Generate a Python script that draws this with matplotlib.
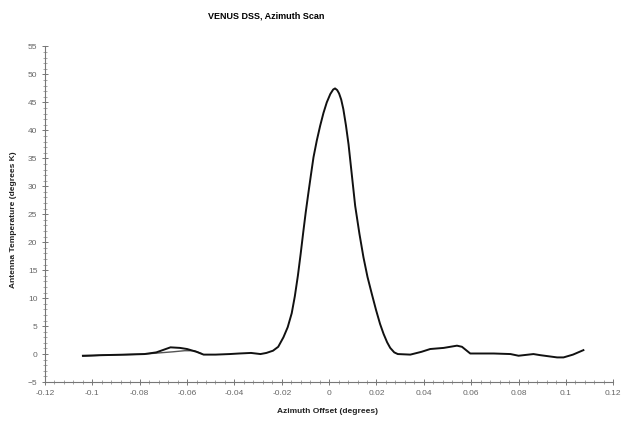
import matplotlib
matplotlib.use("Agg")
import matplotlib.pyplot as plt
from matplotlib.ticker import MultipleLocator, FuncFormatter

plt.rcParams['font.family'] = ['Liberation Sans', 'DejaVu Sans']

# azimuth scan, main trace (offset in degrees, antenna temperature in K)
offset = [-0.104, -0.096, -0.086, -0.078, -0.073, -0.067, -0.063, -0.060, -0.056,
          -0.053, -0.048, -0.042, -0.038, -0.033, -0.029, -0.0265, -0.0237,
          -0.0215, -0.0193, -0.0175, -0.0158, -0.0145, -0.0132, -0.0120, -0.0109,
          -0.0099, -0.0088, -0.0077, -0.0066, -0.0052, -0.0038, -0.0024, -0.0010,
          0.0005, 0.0017, 0.0025, 0.0034, 0.0042, 0.0051, 0.0060, 0.0071, 0.0082,
          0.0096, 0.0110, 0.0128, 0.0145, 0.0162, 0.0180, 0.0198, 0.0215, 0.0230,
          0.0245, 0.0258, 0.0275, 0.0290,
          0.0343, 0.0390, 0.0427, 0.0484, 0.0540, 0.0561, 0.0596, 0.0695,
          0.0766, 0.0800, 0.0863, 0.0892, 0.0963, 0.0990, 0.1030, 0.1074]
temp = [-0.3, -0.2, -0.1, 0.0, 0.3, 1.2, 1.1, 0.9, 0.4,
        -0.1, -0.1, 0.0, 0.1, 0.2, 0.0, 0.2, 0.6,
        1.3, 3.0, 4.8, 7.3, 10.3, 14.0, 18.0, 21.9,
        25.3, 28.7, 32.0, 35.2, 38.2, 40.8, 43.1, 45.0,
        46.5, 47.3, 47.5, 47.2, 46.6, 45.5, 43.8, 40.9, 37.5,
        32.0, 26.5, 21.5, 17.3, 13.8, 10.8, 7.9, 5.4, 3.6,
        2.1, 1.1, 0.3, 0.0,
        -0.1, 0.4, 0.9, 1.1, 1.5, 1.3, 0.1, 0.1,
        0.0, -0.3, 0.0, -0.2, -0.6, -0.6, -0.1, 0.7]

# return trace, only visible where it departs from the main one
offset_ret = [-0.104, -0.096, -0.086, -0.078, -0.072, -0.066, -0.061, -0.057, -0.054]
temp_ret = [-0.4, -0.2, -0.1, 0.0, 0.2, 0.4, 0.6, 0.6, 0.1]

fig = plt.figure(figsize=(6.21, 4.21), dpi=100)
ax = fig.add_axes([0.0725, 0.0926, 0.915, 0.797])

ax.plot(offset_ret, temp_ret, color='#555555', lw=1.0)
ax.plot(offset, temp, color='#111111', lw=1.4)

ax.set_xlim(-0.12, 0.12)
ax.set_ylim(-5, 55)
ax.xaxis.set_major_locator(MultipleLocator(0.02))
ax.xaxis.set_minor_locator(MultipleLocator(0.004))
ax.yaxis.set_major_locator(MultipleLocator(5))
ax.yaxis.set_minor_locator(MultipleLocator(1))
ax.xaxis.set_major_formatter(FuncFormatter(lambda v, p: '0' if abs(v) < 1e-9 else ('%g' % round(v, 2))))

for s in ['top', 'right']:
    ax.spines[s].set_visible(False)
for s in ['left', 'bottom']:
    ax.spines[s].set_color('#777777')
    ax.spines[s].set_linewidth(0.8)

ax.tick_params(which='major', direction='inout', length=5, width=0.7,
               color='#777777', labelsize=6, labelcolor='#666666', pad=3)
ax.tick_params(which='minor', direction='inout', length=2.5, width=0.6, color='#999999')

fig.text(0.428, 0.962, 'VENUS DSS, Azimuth Scan', ha='center', va='center',
         fontsize=6.5, fontweight='bold')
fig.text(0.527, 0.022, 'Azimuth Offset (degrees)', ha='center', va='center',
         fontsize=6, fontweight='bold', color='#222222')
fig.text(0.021, 0.477, 'Antenna Temperature (degrees K)', ha='center', va='center',
         rotation=90, fontsize=6, fontweight='bold', color='#222222')

fig.savefig('out.png', dpi=100)
